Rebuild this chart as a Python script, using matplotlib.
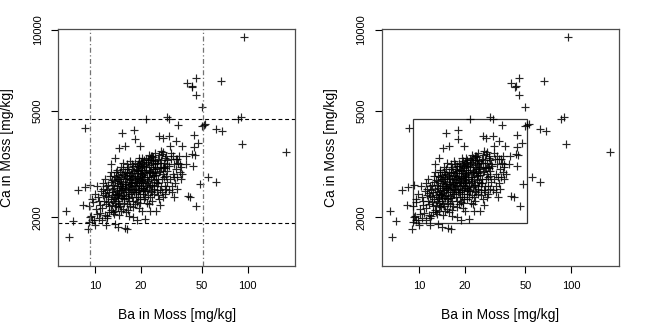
import matplotlib
matplotlib.use("Agg")
import matplotlib.pyplot as plt
from matplotlib.patches import Rectangle
from matplotlib.ticker import FixedLocator, NullLocator

plt.rcParams['font.family'] = ['Liberation Sans', 'DejaVu Sans']

# Ba and Ca in moss [mg/kg] (outliers and fringe points)
ba_out = [95.5, 40, 43.5, 45.7, 43, 45.7, 50, 66.5, 86, 90, 92.5, 179.5,
          51.6, 52.7, 50.1, 62.5, 68, 55, 62.5, 48.5, 46.2, 40.5, 42,
          21.7, 29.4, 30.5, 35, 8.56, 15, 18.0, 18.1, 26.4, 27.7, 30.6, 44.2,
          47.2, 15.7, 14.4, 19.8, 33.7, 31.1, 37, 44.2, 43.1, 44.9, 39.6,
          43.8, 39.2, 36.2, 34.4, 36.3, 33, 32, 26.7, 25.2, 23, 21.2, 20.2,
          13.5, 12.7, 15.2, 7.7, 8.5, 9.3, 8.35, 9.1, 6.45, 7.1, 6.68, 9.0,
          9.1, 9.4, 9.55, 14.2, 15.6, 16.2, 11.8, 13.4, 18.8, 17.8]
ca_out = [9370, 6340, 6180, 6600, 6100, 5700, 5160, 6420, 4650, 4730, 3770, 3500,
          4420, 4440, 4390, 4275, 4200, 2830, 2700, 2670, 2200, 2395, 2385,
          4650, 4730, 4640, 4420, 4290, 4140, 4250, 3910, 4015, 3960, 4015, 4060,
          3800, 3690, 3630, 3690, 3850, 3680, 3690, 3660, 3460, 3410, 3380,
          3110, 3150, 3150, 3290, 2780, 2385, 2480, 2225, 2113, 2113, 1977, 2107,
          3320, 3170, 3190, 2540, 2600, 2640, 2230, 2200, 2120, 1945, 1685, 1805,
          1920, 2030, 1950, 1840, 1823, 1805, 1880, 1895, 1960, 2005]

# dense central cloud (estimated)
ba_core = [9.3, 9.6, 9.8, 10.1, 10.4, 10.2, 10.7, 10.9, 9.9, 10.5, 10.8, 9.5, 10.3, 10.6, 10.0,
           11.1, 11.3, 11.6, 11.8, 12.1, 12.4, 12.7, 12.9, 11.4, 11.9, 12.2, 12.5, 12.8, 11.2, 11.7,
           12.0, 12.3, 12.6, 12.9, 11.5, 11.1, 12.2, 12.7, 11.8, 12.4, 11.3, 12.0, 12.6, 11.6, 12.9,
           13.1, 13.3, 13.5, 13.7, 13.9, 14.1, 14.3, 14.5, 14.7, 14.9, 13.2, 13.4, 13.6, 13.8, 14.0,
           14.2, 14.4, 14.6, 14.8, 13.05, 13.25, 13.55, 13.85, 14.15, 14.45, 14.75, 14.95, 13.45, 13.95, 14.35,
           14.65, 13.15, 13.75, 14.25, 14.85, 13.35, 13.65, 14.05, 14.55, 14.9, 13.0, 13.8, 14.4, 14.1, 14.7,
           15.1, 15.3, 15.5, 15.7, 15.9, 16.1, 16.3, 16.5, 16.7, 16.9, 17.1, 17.3, 17.5, 17.7, 17.9,
           15.2, 15.4, 15.6, 15.8, 16.0, 16.2, 16.4, 16.6, 16.8, 17.0, 17.2, 17.4, 17.6, 17.8, 15.05,
           15.35, 15.65, 15.95, 16.25, 16.55, 16.85, 17.15, 17.45, 17.75, 15.15, 15.45, 15.75, 16.05, 16.35, 16.65,
           16.95, 17.25, 17.55, 17.85, 15.25, 15.85, 16.45, 17.05, 17.65, 16.15, 16.75, 17.35, 15.55, 17.95, 16.6,
           18.1, 18.3, 18.5, 18.7, 18.9, 19.1, 19.3, 19.5, 19.7, 19.9, 20.1, 20.3, 20.5, 20.7, 20.9,
           18.2, 18.4, 18.6, 18.8, 19.0, 19.2, 19.4, 19.6, 19.8, 20.0, 20.2, 20.4, 20.6, 20.8, 18.15,
           18.45, 18.75, 19.05, 19.35, 19.65, 19.95, 20.25, 20.55, 20.85, 18.25, 18.55, 18.85, 19.15, 19.45, 19.75,
           20.05, 20.35, 20.65, 20.95, 18.35, 18.95, 19.55, 20.15, 20.75, 19.25, 19.85, 20.45, 18.65, 20.95, 19.4,
           21.2, 21.5, 21.8, 22.1, 22.4, 22.7, 23.0, 23.3, 23.6, 23.9, 24.2, 24.5, 24.8, 21.3, 21.6,
           21.9, 22.2, 22.5, 22.8, 23.1, 23.4, 23.7, 24.0, 24.3, 24.6, 24.9, 21.1, 21.4, 21.7, 22.0,
           22.3, 22.6, 22.9, 23.2, 23.5, 23.8, 24.1, 24.4, 24.7, 21.55, 22.15, 22.75, 23.35, 23.95, 24.55,
           21.85, 22.45, 23.05, 23.65, 24.25, 24.85, 21.25, 22.55, 23.5, 24.4,
           25.2, 25.6, 26.0, 26.4, 26.8, 27.2, 27.6, 28.0, 28.4, 28.8, 29.2, 29.6, 25.4, 25.8, 26.2,
           26.6, 27.0, 27.4, 27.8, 28.2, 28.6, 29.0, 29.4, 29.8, 25.3, 25.9, 26.5, 27.1, 27.7, 28.3,
           28.9, 29.5, 25.7, 26.3, 27.3, 28.5, 26.9, 29.1, 25.5, 27.9,
           30.4, 31.0, 31.6, 32.2, 32.8, 33.4, 34.0, 34.6, 35.2, 35.8, 30.7, 31.3, 31.9, 32.5, 33.1,
           33.7, 34.3, 35.5, 36.4, 37.2]
ca_core = [2010, 2280, 1960, 2150, 2390, 2060, 2230, 2510, 2440, 1990, 2080, 2340, 2620, 2310, 1870,
           2170, 2420, 2050, 2610, 2290, 2480, 2140, 2750, 2300, 1990, 2380, 2860, 2560, 2690, 2240,
           2520, 2090, 2340, 2420, 2780, 1950, 2650, 2950, 2400, 2210, 2560, 2030, 2700, 2460, 2230,
           2310, 2580, 2120, 2820, 2440, 2690, 2250, 2950, 2530, 2370, 2060, 2730, 2390, 2610, 2180,
           2880, 2470, 2740, 2110, 2490, 2860, 2270, 3010, 2360, 2620, 2830, 2570, 2440, 2780, 2040,
           3080, 2650, 2200, 2520, 2660, 2340, 2950, 2430, 2210, 2900, 2100, 2500, 2770, 2300, 2410,
           2420, 2710, 2260, 2960, 2530, 2800, 2370, 3080, 2640, 2890, 2450, 3150, 2720, 2300, 2980,
           2150, 2880, 2570, 2090, 2660, 3020, 2490, 2780, 2200, 3240, 2610, 2860, 2520, 3100, 2620,
           2340, 2790, 2410, 2940, 2310, 2700, 2940, 2380, 2830, 3020, 2480, 2670, 2240, 2600, 2960,
           2550, 2760, 3030, 2640, 2560, 2850, 2140, 2690, 2180, 3160, 2450, 2550, 2370, 2490, 2030,
           2560, 2860, 2390, 3110, 2690, 2980, 2520, 3240, 2780, 3050, 2620, 3340, 2880, 2440, 3120,
           2240, 3000, 2700, 2290, 2810, 3170, 2640, 2930, 2350, 3220, 2750, 3010, 2580, 3280, 2770,
           2480, 2920, 2540, 3090, 2450, 2850, 3110, 2500, 2960, 3180, 2610, 2810, 2380, 2730, 3130,
           2690, 2910, 3190, 2780, 2690, 3000, 2270, 2830, 2340, 3340, 2580, 2680, 2480, 2560, 2160,
           2700, 3010, 2520, 3280, 2830, 3140, 2650, 3390, 2920, 3200, 2760, 3480, 3020, 2380, 3150,
           2840, 2420, 2960, 3330, 2770, 3080, 2480, 3360, 2880, 3150, 2700, 2920, 2610, 3070, 2680,
           3220, 2590, 2980, 3260, 2640, 3020, 3280, 2620, 3090, 3300, 2740, 2950, 2510, 2860, 2920,
           2260, 3420, 2380, 3380, 2450, 3250, 2510, 2240, 2300, 2550,
           2880, 3180, 2690, 3420, 2990, 3260, 2780, 3500, 3070, 3320, 2860, 3150, 2520, 3300, 2960,
           2540, 3080, 3440, 2910, 3190, 2620, 3380, 2990, 2700, 3060, 2770, 3200, 2620, 3050, 2820,
           3050, 3260, 2420, 2340, 2480, 2450, 3550, 2560, 2680, 2380,
           3100, 2780, 3300, 2900, 3150, 2680, 3030, 2830, 3200, 2950, 2520, 3480, 2620, 3380, 2830,
           3290, 2550, 3400, 3080, 2900]

ba = ba_out + ba_core
ca = ca_out + ca_core

# univariate outlier boundaries
ba_lo, ba_hi = 9.18, 50.9
ca_lo, ca_hi = 1911, 4645

fig = plt.figure(figsize=(6.48, 3.24), dpi=100)
ax1 = fig.add_axes([0.0895, 0.179, 0.366, 0.731])
ax2 = fig.add_axes([0.589, 0.179, 0.366, 0.731])

for ax in (ax1, ax2):
    ax.plot(ba, ca, '+', color='black', ms=5.8, mew=0.85, alpha=0.85)
    ax.set_xscale('log')
    ax.set_yscale('log')
    ax.set_xlim(5.69, 205.6)
    ax.set_ylim(1318, 10060)
    ax.xaxis.set_major_locator(FixedLocator([10, 20, 50, 100]))
    ax.yaxis.set_major_locator(FixedLocator([2000, 5000, 10000]))
    ax.xaxis.set_minor_locator(NullLocator())
    ax.yaxis.set_minor_locator(NullLocator())
    ax.set_xticklabels(['10', '20', '50', '100'])
    ax.set_yticklabels(['2000', '5000', '10000'], rotation=90, va='center')
    ax.tick_params(direction='out', length=5, width=0.8, labelsize=8, pad=6)
    for s in ax.spines.values():
        s.set_color('0.3')
        s.set_linewidth(0.9)
    ax.set_xlabel('Ba in Moss [mg/kg]', fontsize=10)
    ax.set_ylabel('Ca in Moss [mg/kg]', fontsize=10)
    ax.xaxis.set_label_coords(0.5, -0.178)
    ax.yaxis.set_label_coords(-0.186, 0.5)

# left: dashed lines at the boundaries
ax1.axvline(ba_lo, color='0.45', lw=0.9, ls=(0, (4, 2, 1, 2)))
ax1.axvline(ba_hi, color='0.45', lw=0.9, ls=(0, (4, 2, 1, 2)))
ax1.axhline(ca_lo, color='black', lw=0.8, ls=(0, (3.5, 2.5)))
ax1.axhline(ca_hi, color='black', lw=0.8, ls=(0, (3.5, 2.5)))

# right: box spanned by the boundaries
ax2.add_patch(Rectangle((ba_lo, ca_lo), ba_hi - ba_lo, ca_hi - ca_lo,
                        fill=False, edgecolor='0.2', lw=0.9))

plt.savefig("out.png", dpi=100)
